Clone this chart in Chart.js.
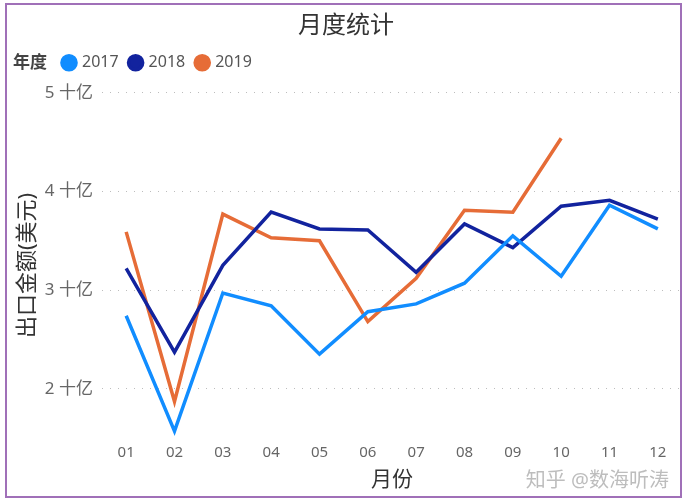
<!DOCTYPE html>
<html>
<head>
<meta charset="utf-8">
<script src="https://cdn.jsdelivr.net/npm/chart.js@4/dist/chart.umd.min.js"></script>
<style>
html,body{margin:0;padding:0;background:#fff;}
canvas{display:block;}
</style>
</head>
<body>
<canvas id="c" width="687" height="503"></canvas>
<script>
const months = ['01','02','03','04','05','06','07','08','09','10','11','12'];
const v2017 = [2.74,1.57,2.97,2.84,2.35,2.78,2.86,3.07,3.55,3.14,3.86,3.62];
const v2018 = [3.22,2.37,3.25,3.79,3.62,3.61,3.18,3.67,3.43,3.85,3.91,3.72];
const v2019 = [3.59,1.87,3.77,3.53,3.50,2.68,3.12,3.81,3.79,4.54,null,null];
const yTicks = [2,3,4,5];
const seriesNames = ['2017','2018','2019'];
const colors = ['#118DFF','#12239E','#E66C37'];

const FONT = "'Noto Sans','Noto Sans CJK SC',sans-serif";

const extras = {
  id:'extras',
  afterInit(chart){
    const lg = chart.legend;
    if(!lg || lg._patched) return;
    const f = lg.fit.bind(lg);
    lg.fit = function(){ f(); this.height += 12; };
    lg._patched = true;
  },
  afterUpdate(chart){
    const lg = chart.legend;
    if(!lg) return;
    const delta = 64 - (lg.left + lg.options.labels.padding);
    lg.left += delta; lg.right += delta;
  },
  afterDraw(chart){
    const ctx = chart.ctx;
    ctx.save();
    ctx.font = "bold 17px " + FONT;
    ctx.fillStyle = '#444';
    ctx.textBaseline = 'middle';
    ctx.textAlign = 'left';
    const lg = chart.legend;
    const ly = lg.legendHitBoxes.length ? lg.legendHitBoxes[0].top + lg.legendHitBoxes[0].height/2 : 61;
    ctx.fillText('年度', 13, ly);
    ctx.font = "20px " + FONT;
    ctx.fillStyle = '#bdbdbd';
    ctx.textAlign = 'right';
    ctx.fillText('知乎 @数海听涛', 669, 481);
    ctx.strokeStyle = '#a070b8';
    ctx.lineWidth = 2;
    ctx.strokeRect(6, 4, 675, 493);
    ctx.restore();
  }
};

new Chart(document.getElementById('c'), {
  type:'line',
  data:{
    labels: months,
    datasets: seriesNames.map((n,i)=>({
      label:n,
      data:[v2017,v2018,v2019][i],
      borderColor:colors[i],
      backgroundColor:colors[i],
      borderWidth:3.5,
      pointRadius:0,
      tension:0,
      spanGaps:false
    }))
  },
  options:{
    responsive:false,
    animation:false,
    layout:{padding:{left:10,right:5,top:0,bottom:8}},
    plugins:{
      title:{display:true,text:'月度统计',color:'#333',font:{family:FONT,size:24,weight:'normal'},padding:{top:12,bottom:2}},
      legend:{
        display:true,position:'top',align:'start',
        labels:{usePointStyle:true,pointStyle:'circle',boxWidth:10,boxHeight:10,padding:12,color:'#555',font:{family:FONT,size:16}}
      },
      tooltip:{enabled:false}
    },
    scales:{
      x:{
        offset:true,
        grid:{display:false,drawTicks:false},
        border:{display:false},
        ticks:{color:'#666',font:{family:FONT,size:15},padding:6,maxRotation:0},
        title:{display:true,text:'月份',color:'#333',font:{family:FONT,size:21},padding:{top:0,bottom:2}},
        afterFit(s){s.height=57;}
      },
      y:{
        min:1.5,max:5,
        afterBuildTicks(s){s.ticks = yTicks.map(v=>({value:v}));},
        grid:{color:'#bdbdbd',lineWidth:1,drawTicks:false},
        border:{display:false,dash:[1,7]},
        ticks:{color:'#666',font:{family:FONT,size:17},padding:9,callback:v=>v+' 十亿'},
        title:{display:true,text:'出口金额(美元)',color:'#333',font:{family:FONT,size:22},padding:{top:5,bottom:0}},
        afterFit(s){s.width=92;}
      }
    }
  },
  plugins:[extras]
});
</script>
</body>
</html>
